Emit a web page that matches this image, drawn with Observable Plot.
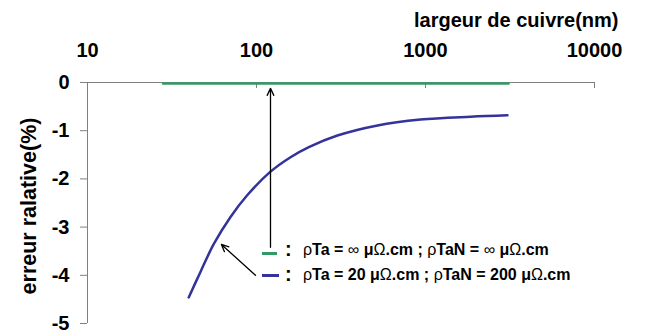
<!DOCTYPE html>
<html><head><meta charset="utf-8">
<script src="https://cdn.jsdelivr.net/npm/d3@7"></script>
<script src="https://cdn.jsdelivr.net/npm/@observablehq/plot@0.6"></script>
<style>
body{margin:0;background:#fff;}
#wrap{position:relative;width:654px;height:336px;font-family:"Liberation Sans",Arial,sans-serif;}
#wrap svg{font-family:"Liberation Sans",Arial,sans-serif;}
.lg{position:absolute;left:0;top:0;font-size:16px;font-weight:bold;white-space:nowrap;color:#000;}
.lg .sw{position:absolute;height:3px;}
.lg .co{position:absolute;font-size:20px;}
.lg .tx{position:absolute;}
.lg .g{font-weight:normal;}
</style>
</head><body><div id="wrap"></div>
<script>
// ---- data ----
const xTicks = [10, 100, 1000, 10000];
const xTickLabels = ["10", "100", "1000", "10000"];
const yTicks = [0, -1, -2, -3, -4, -5];
const yTickLabels = ["0", "-1", "-2", "-3", "-4", "-5"];
const xTitle = "largeur de cuivre(nm)";
const yTitle = "erreur ralative(%)";
// series 1 : rhoTa = inf, rhoTaN = inf
const infWidth = [28, 3100];
const infErr = [0, 0];
// series 2 : rhoTa = 20, rhoTaN = 200
const finWidth = [39.7, 46.6, 55.9, 70.2, 88.1, 121, 159, 204, 301, 520, 934, 1846, 3055];
const finErr = [-4.46, -3.93, -3.35, -2.79, -2.34, -1.85, -1.55, -1.34, -1.10, -0.89, -0.77, -0.71, -0.68];
const legendLabels = ["ρTa = ∞ μΩ.cm ; ρTaN = ∞ μΩ.cm", "ρTa = 20 μΩ.cm ; ρTaN = 200 μΩ.cm"];
const legendColors = ["#339966", "#333399"];
// annotation arrows (data coordinates: start -> tip)
const arrowX1 = [121, 98.6];
const arrowY1 = [-3.42, -4.0];
const arrowX2 = [121, 62];
const arrowY2 = [-0.12, -3.36];

const infData = infWidth.map((x, i) => ({x, y: infErr[i]}));
const finData = finWidth.map((x, i) => ({x, y: finErr[i]}));
const arrows = arrowX1.map((x1, i) => ({x1, y1: arrowY1[i], x2: arrowX2[i], y2: arrowY2[i]}));

const gray = "#808080";
const chart = Plot.plot({
  width: 654,
  height: 336,
  marginLeft: 87,
  marginRight: 60,
  marginTop: 82,
  marginBottom: 13,
  style: {background: "white", fontFamily: "Liberation Sans, Arial, sans-serif"},
  x: {type: "log", domain: [10, 10000]},
  y: {domain: [-5, 0]},
  marks: [
    Plot.axisX({anchor: "top", ticks: xTicks, tickFormat: d => xTickLabels[xTicks.indexOf(d)],
      tickSize: 0, tickPadding: 26, fontSize: 20, fontWeight: "bold", fill: "black", label: null}),
    Plot.tickX(xTicks, {x: d => d, insetBottom: 235, stroke: gray}),
    Plot.axisY({ticks: yTicks, tickFormat: d => yTickLabels[yTicks.indexOf(d)],
      tickSize: 7, tickPadding: 11, fontSize: 20, fontWeight: "bold", stroke: gray, fill: "black", label: null}),
    Plot.ruleX([10], {stroke: gray}),
    Plot.ruleY([0], {stroke: gray}),
    Plot.line(infData, {x: "x", y: "y", stroke: legendColors[0], strokeWidth: 2.5, dy: 1}),
    Plot.line(finData, {x: "x", y: "y", stroke: legendColors[1], strokeWidth: 2.5, curve: "catmull-rom"}),
    Plot.arrow(arrows, {x1: "x1", y1: "y1", x2: "x2", y2: "y2", stroke: "black", strokeWidth: 1.3, headLength: 9, headAngle: 50}),
    Plot.text([xTitle], {frameAnchor: "top-right", textAnchor: "end", lineAnchor: "middle", dx: 24, dy: -62,
      fontSize: 20, fontWeight: "bold", fill: "black"}),
    Plot.text([yTitle], {frameAnchor: "left", textAnchor: "middle", rotate: -90, lineAnchor: "middle", dx: -58, dy: 3,
      fontSize: 21.5, fontWeight: "bold", fill: "black"})
  ]
});
const wrap = document.getElementById("wrap");
wrap.appendChild(chart);

// legend (HTML overlay)
const rowsTop = [251, 276];
legendLabels.forEach((lab, i) => {
  const row = document.createElement("div");
  row.className = "lg";
  const sw = document.createElement("span");
  sw.className = "sw";
  sw.style.background = legendColors[i];
  sw.style.left = "262px";
  sw.style.width = (i === 0 ? 15 : 17) + "px";
  sw.style.top = (rowsTop[i] + (i === 0 ? 1 : -2)) + "px";
  row.appendChild(sw);
  const co = document.createElement("span");
  co.className = "co";
  co.textContent = ":";
  co.style.left = "285px";
  co.style.top = (rowsTop[i] - 13) + "px";
  row.appendChild(co);
  const tx = document.createElement("span");
  tx.className = "tx";
  tx.innerHTML = lab.replace(/[ρ∞Ω]/g, c => `<span class="g">${c}</span>`);
  tx.style.left = "303px";
  tx.style.top = (rowsTop[i] - 10) + "px";
  row.appendChild(tx);
  wrap.appendChild(row);
});
</script>
</body></html>
